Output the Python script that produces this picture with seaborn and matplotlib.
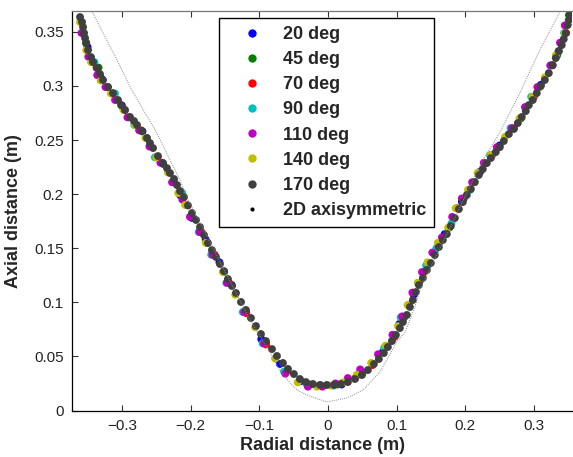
import numpy as np
import pandas as pd
import seaborn as sns
import matplotlib
matplotlib.use("Agg")
import matplotlib.pyplot as plt
from matplotlib.lines import Line2D

# ---------------- data ----------------
labels = ["20 deg", "45 deg", "70 deg", "90 deg", "110 deg", "140 deg", "170 deg"]
colors = ["#0000ff", "#008000", "#ff0000", "#00bfbf", "#bf00bf", "#bfbf00", "#404040"]

r20 = [-0.350, -0.330, -0.300, -0.270, -0.240, -0.215, -0.198, -0.178, -0.158, -0.140, -0.120, -0.097,
       -0.070, -0.040, -0.010, 0.020, 0.050, 0.080, 0.104, 0.125, 0.146, 0.170, 0.195, 0.222, 0.250,
       0.280, 0.310, 0.336]
z20 = [0.336, 0.307, 0.282, 0.258, 0.228, 0.199, 0.178, 0.158, 0.137, 0.116, 0.092, 0.066,
       0.043, 0.027, 0.023, 0.024, 0.034, 0.054, 0.080, 0.107, 0.135, 0.163, 0.193, 0.221, 0.245,
       0.270, 0.301, 0.332]

r45 = [-0.352, -0.334, -0.314, -0.289, -0.264, -0.241, -0.216, -0.198, -0.176, -0.151, -0.119, -0.090,
       -0.059, -0.026, 0.014, 0.050, 0.086, 0.111, 0.133, 0.155, 0.177, 0.198, 0.220, 0.249, 0.281,
       0.308, 0.334, 0.351]
z45 = [0.340, 0.317, 0.293, 0.271, 0.252, 0.229, 0.201, 0.179, 0.155, 0.128, 0.091, 0.062,
       0.037, 0.024, 0.024, 0.035, 0.059, 0.086, 0.118, 0.146, 0.169, 0.196, 0.2195, 0.2435, 0.270,
       0.299, 0.3285, 0.3655]

r70 = [-0.356, -0.337, -0.321, -0.296, -0.272, -0.248, -0.224, -0.206, -0.184, -0.165, -0.144, -0.119,
       -0.090, -0.060, -0.030, 0.010, 0.040, 0.065, 0.097, 0.118, 0.140, 0.162, 0.188, 0.213, 0.239,
       0.271, 0.300, 0.327, 0.347]
z70 = [0.349, 0.317, 0.299, 0.278, 0.259, 0.234, 0.211, 0.190, 0.165, 0.144, 0.118, 0.090,
       0.061, 0.036, 0.024, 0.024, 0.030, 0.042, 0.068, 0.0975, 0.128, 0.155, 0.187, 0.211, 0.236,
       0.261, 0.290, 0.319, 0.349]

r90 = [-0.340, -0.310, -0.282, -0.252, -0.226, -0.212, -0.188, -0.170, -0.148, -0.124, -0.095, -0.064,
       -0.030, 0.008, 0.045, 0.082, 0.106, 0.131, 0.143, 0.158, 0.180, 0.207, 0.236, 0.266, 0.296,
       0.324, 0.344]
z90 = [0.322, 0.293, 0.264, 0.234, 0.211, 0.201, 0.165, 0.144, 0.118, 0.091, 0.062, 0.036,
       0.023, 0.023, 0.034, 0.058, 0.086, 0.118, 0.134, 0.150, 0.173, 0.204, 0.236, 0.261, 0.290,
       0.319, 0.349]

r110 = [-0.359, -0.349, -0.336, -0.324, -0.310, -0.292, -0.275, -0.260, -0.244, -0.227, -0.212, -0.201,
        -0.187, -0.168, -0.147, -0.122, -0.093, -0.062, -0.029, -0.008, 0.011, 0.029, 0.047, 0.073,
        0.094, 0.108, 0.123, 0.137, 0.152, 0.166, 0.181, 0.195, 0.210, 0.227, 0.246, 0.268, 0.287,
        0.305, 0.324, 0.338, 0.345]
z110 = [0.349, 0.327, 0.310, 0.299, 0.287, 0.271, 0.259, 0.244, 0.229, 0.211, 0.195, 0.179,
        0.165, 0.144, 0.118, 0.091, 0.062, 0.034, 0.022, 0.022, 0.025, 0.030, 0.038, 0.052,
        0.070, 0.087, 0.109, 0.128, 0.146, 0.160, 0.179, 0.196, 0.211, 0.229, 0.2435, 0.261, 0.2805,
        0.299, 0.319, 0.340, 0.356]

r140 = [-0.361, -0.352, -0.345, -0.331, -0.316, -0.298, -0.281, -0.266, -0.250, -0.233, -0.218, -0.208,
        -0.178, -0.153, -0.135, -0.106, -0.077, -0.044, -0.016, 0.004, 0.022, 0.042, 0.063, 0.084,
        0.102, 0.116, 0.131, 0.145, 0.160, 0.175, 0.186, 0.204, 0.218, 0.237, 0.258, 0.279, 0.298,
        0.316, 0.332, 0.345]
z140 = [0.359, 0.333, 0.322, 0.305, 0.293, 0.278, 0.264, 0.252, 0.234, 0.220, 0.201, 0.190,
        0.155, 0.128, 0.107, 0.077, 0.048, 0.026, 0.022, 0.023, 0.026, 0.033, 0.044, 0.060,
        0.078, 0.0975, 0.118, 0.137, 0.155, 0.169, 0.187, 0.204, 0.2195, 0.236, 0.253, 0.270, 0.290,
        0.308, 0.3285, 0.349]

r170 = [-0.3610, -0.3581, -0.3566, -0.3552, -0.3537, -0.3523, -0.3493, -0.3450, -0.3421, -0.3362,
        -0.3319, -0.3275, -0.3202, -0.3130, -0.3057, -0.3013, -0.2955, -0.2882, -0.2824, -0.2780,
        -0.2707, -0.2635, -0.2591, -0.2547, -0.2475, -0.2402, -0.2344, -0.2300, -0.2242, -0.2198,
        -0.2154, -0.2096, -0.2038, -0.1980, -0.1921, -0.1863, -0.1805, -0.1747, -0.1689, -0.1630,
        -0.1572, -0.1514, -0.1456, -0.1397, -0.1339, -0.1266, -0.1194, -0.1121, -0.1048, -0.0975,
        -0.0902, -0.0815, -0.0742, -0.0655, -0.0582, -0.0495, -0.0408, -0.0320, -0.0218, -0.0116,
        -0.0015,
        0.0087, 0.0189, 0.0291, 0.0393, 0.0495, 0.0582, 0.0670, 0.0742, 0.0815, 0.0873,
        0.0932, 0.0990, 0.1048, 0.1092, 0.1150, 0.1194, 0.1237, 0.1281, 0.1325, 0.1383,
        0.1441, 0.1499, 0.1557, 0.1616, 0.1674, 0.1732, 0.1790, 0.1849, 0.1907, 0.1965,
        0.2023, 0.2082, 0.2140, 0.2198, 0.2256, 0.2314, 0.2373, 0.2445, 0.2504, 0.2562,
        0.2635, 0.2707, 0.2766, 0.2824, 0.2882, 0.2926, 0.2984, 0.3042, 0.3100, 0.3159,
        0.3217, 0.3275, 0.3319, 0.3362, 0.3406, 0.3435, 0.3464, 0.3493, 0.3508, 0.3523]
z170 = [0.3637, 0.3591, 0.3544, 0.3489, 0.3443, 0.3396, 0.3332, 0.3267, 0.3221, 0.3165,
        0.3110, 0.3055, 0.2990, 0.2934, 0.2870, 0.2823, 0.2777, 0.2713, 0.2676, 0.2639,
        0.2583, 0.2519, 0.2472, 0.2426, 0.2352, 0.2287, 0.2241, 0.2195, 0.2140, 0.2084,
        0.2029, 0.1973, 0.1895, 0.1825, 0.1761, 0.1696, 0.1622, 0.1548, 0.1483, 0.1419,
        0.1354, 0.1289, 0.1215, 0.1151, 0.1086, 0.1003, 0.0929, 0.0855, 0.0781, 0.0707,
        0.0642, 0.0568, 0.0504, 0.0439, 0.0384, 0.0337, 0.0291, 0.0263, 0.0245, 0.0236,
        0.0236,
        0.0236, 0.0245, 0.0263, 0.0291, 0.0328, 0.0374, 0.0430, 0.0476, 0.0531, 0.0587,
        0.0642, 0.0698, 0.0762, 0.0818, 0.0883, 0.0957, 0.1021, 0.1095, 0.1160, 0.1225,
        0.1299, 0.1363, 0.1437, 0.1511, 0.1576, 0.1631, 0.1705, 0.1779, 0.1862, 0.1927,
        0.1992, 0.2047, 0.2112, 0.2177, 0.2232, 0.2287, 0.2334, 0.2389, 0.2435, 0.2491,
        0.2555, 0.2602, 0.2657, 0.2713, 0.2768, 0.2823, 0.2870, 0.2934, 0.2999, 0.3055,
        0.3119, 0.3193, 0.3258, 0.3323, 0.3378, 0.3433, 0.3489, 0.3563, 0.3609, 0.3655]

# 2D axisymmetric profile
r2d = [-0.3435, -0.3275, -0.307, -0.288, -0.269, -0.249, -0.230, -0.2155, -0.204, -0.1135, -0.089,
       -0.070, -0.055, -0.045, -0.0305, -0.0015, 0.0277, 0.051, 0.0757, 0.102, 0.112, 0.1266, 0.1354,
       0.150, 0.2256, 0.250, 0.2795, 0.3086, 0.3377]
z2d = [0.3688, 0.349, 0.324, 0.299, 0.278, 0.2565, 0.2315, 0.213, 0.1955, 0.0836, 0.0587,
       0.0374, 0.0254, 0.0189, 0.0143, 0.0079, 0.0116, 0.0189, 0.0356, 0.0652, 0.0716, 0.0957, 0.114,
       0.1326, 0.2315, 0.2565, 0.2934, 0.3332, 0.3683]

xticks = [-0.3, -0.2, -0.1, 0, 0.1, 0.2, 0.3]
xticklabels = ["\u22120.3", "\u22120.2", "\u22120.1", "0", "0.1", "0.2", "0.3"]
yticks = [0, 0.05, 0.1, 0.15, 0.2, 0.25, 0.3, 0.35]
yticklabels = ["0", "0.05", "0.1", "0.15", "0.2", "0.25", "0.3", "0.35"]

# ---------------- figure ----------------
sns.set_theme(style="white")
plt.rcParams["font.family"] = ["Liberation Sans", "DejaVu Sans"]

radials = [r20, r45, r70, r90, r110, r140, r170]
axials = [z20, z45, z70, z90, z110, z140, z170]
frames = [pd.DataFrame({"radial": r, "axial": z, "series": lab})
          for r, z, lab in zip(radials, axials, labels)]
df = pd.concat(frames, ignore_index=True)

fig = plt.figure(figsize=(5.73, 4.57), dpi=100)
ax = fig.add_axes([72 / 573, 46.5 / 457, 500 / 573, 399.5 / 457])

sns.lineplot(x=r2d, y=z2d, sort=False, color="#8a8a8a", linewidth=0.7,
             linestyle=(0, (1, 1.2)), ax=ax, legend=False)
sns.scatterplot(data=df, x="radial", y="axial", hue="series", hue_order=labels,
                palette=dict(zip(labels, colors)), s=32, linewidth=0, alpha=1,
                legend=False, ax=ax)

ax.set_xlim(-0.3727, 0.3555)
ax.set_ylim(0, 0.3693)
ax.set_xticks(xticks)
ax.set_xticklabels(xticklabels, fontsize=11, color="#222222")
ax.set_yticks(yticks)
ax.set_yticklabels(yticklabels, fontsize=11, color="#222222")
ax.tick_params(direction="in", length=4, width=0.8, color="#333333",
               top=True, bottom=True, left=True, right=False, pad=6)
ax.set_xlabel("Radial distance (m)", fontsize=13, fontweight="bold", labelpad=3)
ax.set_ylabel("Axial distance (m)", fontsize=13, fontweight="bold", labelpad=9)

for side in ["left", "bottom"]:
    ax.spines[side].set_color("black")
    ax.spines[side].set_linewidth(0.9)
ax.spines["top"].set_color("#777777")
ax.spines["top"].set_linewidth(0.9)
ax.spines["right"].set_visible(False)

handles = [Line2D([], [], linestyle="none", marker="o", markersize=6, color=c,
                  markeredgewidth=0) for c in colors]
handles.append(Line2D([], [], linestyle="none", marker="o", markersize=3,
                      color="black", markeredgewidth=0))
leg = ax.legend(handles, labels + ["2D axisymmetric"], loc="upper left",
                bbox_to_anchor=(0.294, 0.9825), borderaxespad=0, frameon=True,
                fancybox=False, edgecolor="black", framealpha=1,
                prop={"size": 13, "weight": "bold"}, borderpad=0.45,
                handlelength=2.8, handletextpad=0.3, labelspacing=0.45)
leg.get_frame().set_linewidth(1.0)

fig.savefig("out.png", dpi=100)
